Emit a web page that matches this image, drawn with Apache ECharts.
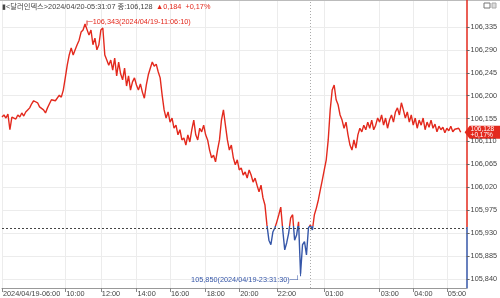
<!DOCTYPE html>
<html><head><meta charset="utf-8">
<script src="https://cdn.jsdelivr.net/npm/echarts@6/dist/echarts.min.js"></script>
<style>html,body{margin:0;padding:0;background:#fff}#c{width:500px;height:298px}</style>
</head><body><div id="c"></div>
<script>
const prices = [
106.158,106.162,106.156,106.164,106.133,106.158,106.160,106.154,106.162,106.158,106.166,106.160,106.168,
106.172,106.176,106.184,106.190,106.192,106.186,106.178,106.180,106.172,106.166,106.176,106.184,106.192,
106.195,106.190,106.193,106.201,106.197,106.211,106.235,
106.260,106.280,106.294,106.280,106.290,106.300,106.309,106.325,106.329,106.341,106.343,106.319,106.329,106.300,106.313,106.290,106.300,106.329,106.333,106.280,106.270,106.260,106.270,
106.250,106.274,106.239,106.266,106.243,106.231,106.254,106.219,106.239,106.211,
106.227,106.235,106.221,106.211,106.223,106.207,106.195,106.221,106.241,106.254,106.266,106.258,106.262,106.247,106.235,106.201,
106.172,106.156,106.168,106.148,106.156,106.136,106.142,106.123,106.133,106.113,106.117,106.103,106.123,106.109,106.133,106.152,106.123,106.113,106.136,106.129,106.142,106.123,106.113,106.093,106.078,106.083,106.070,106.093,106.113,
106.152,106.172,106.142,106.113,106.093,106.103,106.078,106.064,106.074,106.054,106.058,106.044,106.050,106.038,106.054,106.044,106.030,106.038,106.024,106.011,106.024,105.999,105.985,
105.946,105.916,105.907,105.932,105.940,105.952,105.966,105.981,105.936,105.897,105.911,105.930,105.960,105.966,105.916,105.926,105.952,
105.850,
105.907,105.913,105.887,105.940,105.946,105.936,105.966,105.979,105.995,106.015,106.034,106.054,106.074,
106.113,106.172,106.211,106.221,106.192,106.182,106.162,106.152,106.136,106.148,106.123,106.103,106.093,106.113,106.097,
106.123,106.136,106.129,106.142,106.133,106.148,106.136,106.152,106.133,106.142,106.156,106.148,106.162,106.142,106.156,106.136,106.152,106.162,106.148,106.168,
106.176,106.162,106.186,106.172,106.156,106.168,106.148,106.162,106.142,106.156,106.136,106.152,106.142,106.156,106.133,106.148,106.138,106.152,106.136,106.144,106.129,106.140,106.133,106.138,106.127,106.136,106.131,106.140,106.129,106.134,106.131,106.136,106.128
];
const tickIndex = [0,32,50,68,85,103,120,139,163,191,208,225];
const tickLabels = ['2024/04/19-06:00','10:00','12:00','14:00','16:00','18:00','20:00','22:00','01:00','03:00','04:00','05:00'];
const yTicks = [105.840,105.885,105.930,105.975,106.020,106.065,106.110,106.155,106.200,106.245,106.290,106.335];
const yMin = 105.822, yMax = 106.388;
const prevClose = 105.944;
const maxTime = '2024/04/19-11:06:10';
const minTime = '2024/04/19-23:31:30';
const headerMain = '▮<달러인덱스>2024/04/20-05:31:07 종:106,128';
const headerChange = '▲0,184  +0,17%';
const lastPct = '+0,17%';
const dayBreakIndex = 156;
const slotCount = 236;

const RED = '#e3291d', BLUE = '#3556a8';
const FONT = "'Liberation Sans',Arial,sans-serif";
const FS = 7.3;
const fmt = v => v.toFixed(3).replace('.', ',');
const cats = Array.from({length: slotCount}, (_, i) => String(i));
const isTick = i => tickIndex.indexOf(i) >= 0;
const f = (yMax - prevClose) / (yMax - yMin);

const chart = echarts.init(document.getElementById('c'), null, {renderer: 'canvas'});
chart.setOption({
  animation: false,
  backgroundColor: '#fff',
  grid: {left: 0, right: 30, top: 0, bottom: 10},
  xAxis: {
    type: 'category', data: cats, boundaryGap: false,
    axisLine: {lineStyle: {color: '#999', width: 1}},
    axisTick: {interval: i => isTick(i), length: 4, lineStyle: {color: '#888'}},
    axisLabel: {interval: i => isTick(i), hideOverlap: false,
      formatter: (v) => { const k = tickIndex.indexOf(Number(v)); return k >= 0 ? tickLabels[k] : ''; },
      align: 'left', margin: 2, padding: [0,0,0,1], fontSize: FS, color: '#444', fontFamily: FONT, showMinLabel: true},
    splitLine: {show: true, interval: i => isTick(i), lineStyle: {color: '#ececec', width: 1}}
  },
  yAxis: {
    type: 'value', position: 'right', min: yMin, max: yMax, scale: true,
    axisLine: {show: true, lineStyle: {width: 1.5, color: new echarts.graphic.LinearGradient(0,0,0,1,[
      {offset: 0, color: RED}, {offset: f, color: RED}, {offset: f, color: BLUE}, {offset: 1, color: BLUE}])}},
    axisTick: {show: true, customValues: yTicks, length: 3, lineStyle: {color: '#666'}},
    axisLabel: {customValues: yTicks, formatter: v => fmt(v), margin: 4, fontSize: FS, color: '#444', fontFamily: FONT},
    splitLine: {show: true, lineStyle: {color: '#ececec', width: 1}}
  },
  visualMap: {
    type: 'piecewise', show: false, dimension: 1, seriesIndex: 0,
    pieces: [{gte: 100, lt: prevClose, color: BLUE}, {gte: prevClose, lte: 200, color: RED}]
  },
  series: [{
    type: 'line', data: prices, symbol: 'none', lineStyle: {width: 1.4},
    markLine: {
      silent: true, symbol: ['none','none'], label: {show: false},
      data: [
        {yAxis: prevClose, lineStyle: {color: '#444', type: [2,2], width: 1}},
        {xAxis: String(dayBreakIndex), lineStyle: {color: '#aaa', type: [1,2], width: 1}}
      ]
    },
    markPoint: {
      silent: true, symbol: 'rect', symbolSize: [1, 5],
      data: [
        {type: 'max', itemStyle: {color: RED},
          label: {position: 'right', distance: 0, offset: [0, -1], color: RED, fontSize: FS, fontFamily: FONT,
            formatter: p => '─' + fmt(p.value) + '(' + maxTime + ')'}},
        {type: 'min', itemStyle: {color: BLUE},
          label: {position: 'left', distance: 0, offset: [0, 6], color: BLUE, fontSize: FS, fontFamily: FONT,
            formatter: p => fmt(p.value) + '(' + minTime + ')─┘'}}
      ]
    }
  }]
});

const lastIdx = prices.length - 1;
const lastVal = prices[lastIdx];
const pt = chart.convertToPixel({gridIndex: 0}, [String(lastIdx), lastVal]);
const axisX = chart.convertToPixel({gridIndex: 0}, [String(slotCount - 1), lastVal])[0];
const y = pt[1];
chart.setOption({
  graphic: [
    {type: 'line', shape: {x1: 0, y1: 0.5, x2: 500, y2: 0.5}, style: {stroke: '#bbb', lineWidth: 1}},
    {type: 'text', left: 2, top: 1, style: {text: '{a|' + headerMain + '} {b|' + headerChange + '}',
      rich: {a: {fill: '#444', fontSize: FS, fontFamily: "'Liberation Sans','Noto Sans CJK KR',sans-serif"},
             b: {fill: RED, fontSize: FS, fontFamily: FONT}}}},
    {type: 'rect', shape: {x: 484, y: 3, width: 6, height: 5}, style: {fill: '#fff', stroke: '#777', lineWidth: 1}},
    {type: 'rect', shape: {x: 492, y: 3, width: 4, height: 5}, style: {fill: '#ddd', stroke: '#aaa', lineWidth: 1}},
    {type: 'polygon', shape: {points: [[axisX - 2, y], [axisX + 3, y - 6.5], [500, y - 6.5], [500, y + 6.5], [axisX + 3, y + 6.5]]}, style: {fill: RED}},
    {type: 'text', x: axisX + 4, y: y - 6.5, style: {text: fmt(lastVal) + '\n' + lastPct, fontSize: 6.5, lineHeight: 6.5, fill: '#fff', fontFamily: FONT}}
  ]
});
</script>
</body></html>
